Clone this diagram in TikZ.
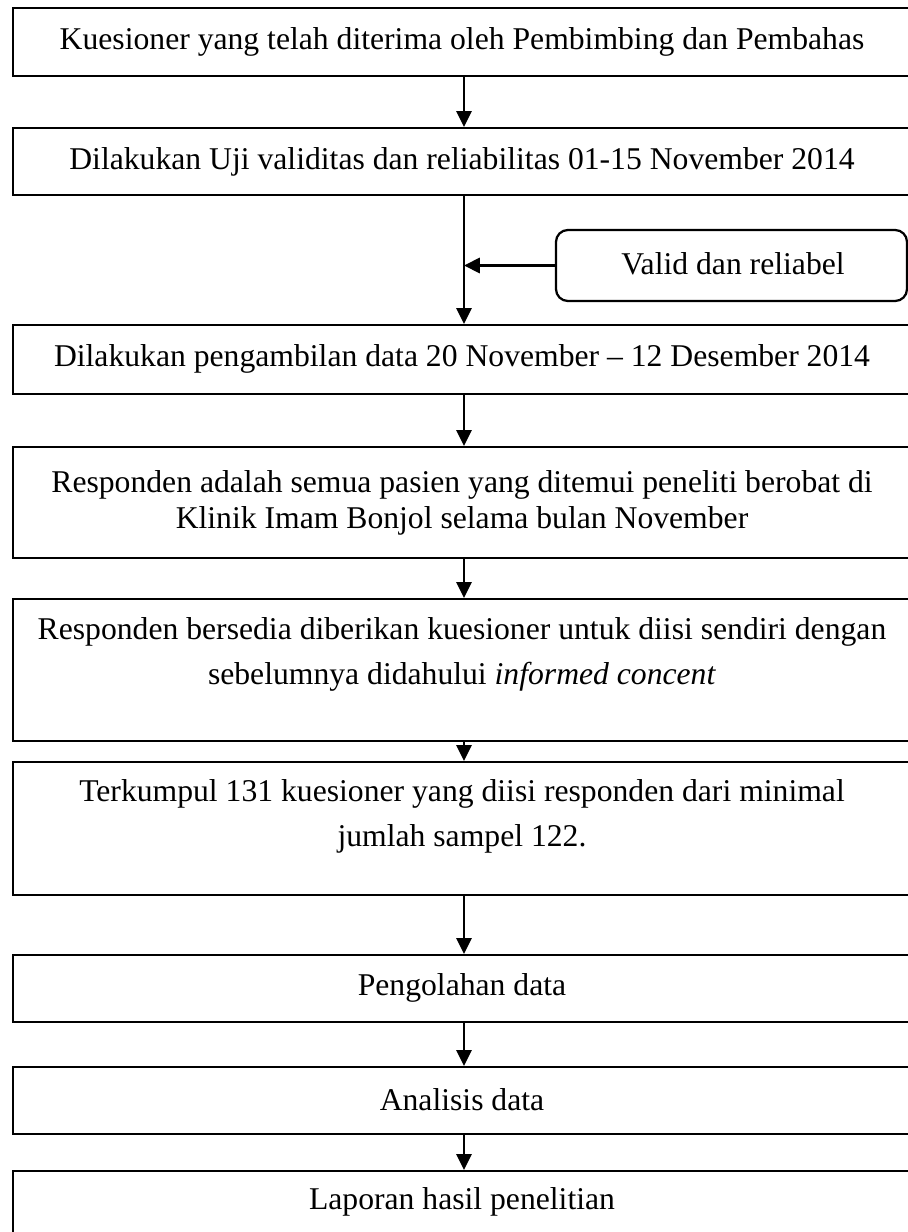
\documentclass[tikz,border=0pt]{standalone}
\usepackage{fontspec}
\setmainfont{Liberation Serif}
\usetikzlibrary{arrows.meta,fit}
\begin{document}
\begin{tikzpicture}[x=0.379pt,y=-0.379pt,
  box/.style={draw, line width=0.85pt, inner sep=0pt},
  rbox/.style={draw, line width=0.85pt, inner sep=0pt, rounded corners=4.5pt},
  txt/.style={inner sep=0pt, align=center, font={\fontsize{12pt}{13.8pt}\selectfont}},
  txtwide/.style={inner sep=0pt, align=center, font={\fontsize{12pt}{17pt}\selectfont}},
  arr/.style={-{Triangle[width=5.8pt,length=6pt]}, line width=0.85pt}]
\useasboundingbox (0,0) rectangle (908,1232);
% boxes
\node[box, fit={(13,8)(912,76)}] (b1) {};
\node[txt] (t1) at (462,42) {Kuesioner yang telah diterima oleh Pembimbing dan Pembahas};
\node[box, fit={(13,128)(912,195)}] (b2) {};
\node[txt] (t2) at (462,162) {Dilakukan Uji validitas dan reliabilitas 01-15 November 2014};
\node[rbox, fit={(556,230)(907,301)}] (bv) {};
\node[txt] (tv) at (733,264) {Valid dan reliabel};
\node[box, fit={(13,325)(912,394)}] (b3) {};
\node[txt] (t3) at (462,359) {Dilakukan pengambilan data 20 November -- 12 Desember 2014};
\node[box, fit={(13,447)(912,558)}] (b4) {};
\node[txt] (t4) at (462,503) {Responden adalah semua pasien yang ditemui peneliti berobat di\\Klinik Imam Bonjol selama bulan November};
\node[box, fit={(13,599)(912,741)}] (b5) {};
\node[txtwide] (t5) at (462,654) {Responden bersedia diberikan kuesioner untuk diisi sendiri dengan\\sebelumnya didahului \textit{informed concent}};
\node[box, fit={(13,762)(912,895)}] (b6) {};
\node[txtwide] (t6) at (462,816) {Terkumpul 131 kuesioner yang diisi responden dari minimal\\jumlah sampel 122.};
\node[box, fit={(13,955)(912,1022)}] (b7) {};
\node[txt] (t7) at (462,988) {Pengolahan data};
\node[box, fit={(13,1067)(912,1134)}] (b8) {};
\node[txt] (t8) at (462,1100) {Analisis data};
\node[box, fit={(13,1171)(912,1245)}] (b9) {};
\node[txt] (t9) at (462,1202) {Laporan hasil penelitian};
% connectors
\coordinate (ax) at (464,0);
\draw[arr] (b1.south -| ax) -- (b2.north -| ax);
\draw[arr] (b2.south -| ax) -- (b3.north -| ax);
\draw[arr] (bv.west) -- (bv.west -| ax);
\draw[arr] (b3.south -| ax) -- (b4.north -| ax);
\draw[arr] (b4.south -| ax) -- (b5.north -| ax);
\draw[arr] (b5.south -| ax) -- (b6.north -| ax);
\draw[arr] (b6.south -| ax) -- (b7.north -| ax);
\draw[arr] (b7.south -| ax) -- (b8.north -| ax);
\draw[arr] (b8.south -| ax) -- (b9.north -| ax);
\end{tikzpicture}
\end{document}
